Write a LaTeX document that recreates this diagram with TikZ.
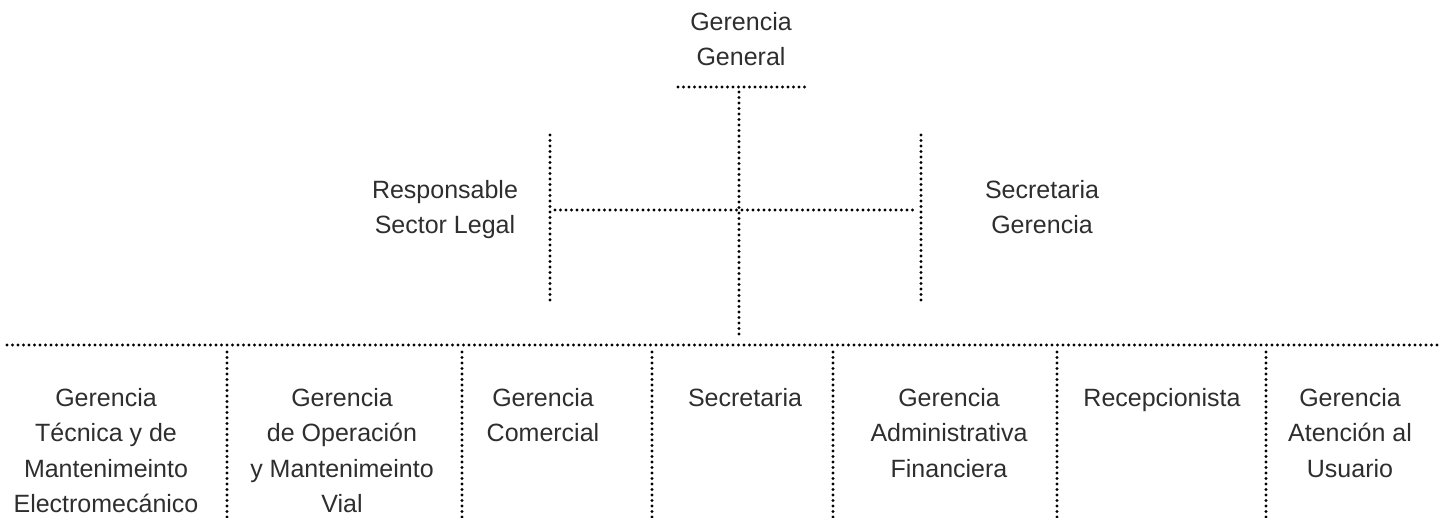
\documentclass[tikz,border=0pt]{standalone}
\usepackage{fontspec}
\setmainfont{Liberation Sans}
\definecolor{ink}{HTML}{2E2E2E}
\begin{document}
\begin{tikzpicture}[x=1pt,y=-1pt,
  dots/.style={line width=3.2pt,line cap=round,dash pattern=on 0pt off 5.5pt,color=black},
  lbl/.style={anchor=north,inner sep=0pt,align=center,text=ink,font=\fontsize{25}{35.5}\selectfont}]
\useasboundingbox (0,0) rectangle (1445,518);
% top level
\node[lbl] (gg) at (741,12) {Gerencia\\General};
\node[lbl] (legal) at (445,180) {Responsable\\Sector Legal};
\node[lbl] (secg) at (1042,180) {Secretaria\\Gerencia};
% bottom row
\foreach \x/\n/\t in {106/tec/{Gerencia\\Técnica y de\\Mantenimeinto\\Electromecánico},
  342/ope/{Gerencia\\de Operación\\y Mantenimeinto\\Vial},
  543/com/{Gerencia\\Comercial},
  745/sec/{Secretaria},
  949/adm/{Gerencia\\Administrativa\\Financiera},
  1162/rec/{Recepcionista},
  1350/usu/{Gerencia\\Atención al\\Usuario}}
  \node[lbl] (\n) at (\x,388) {\t};
% lines
\coordinate (bar-l) at (678,87);
\coordinate (bar-r) at (806,87);
\coordinate (trunk-t) at (739,92);
\coordinate (trunk-b) at (739,335);
\coordinate (br-l) at (555,210);
\coordinate (br-r) at (917,210);
\coordinate (legal-t) at (550,135);
\coordinate (legal-b) at (550,302);
\coordinate (secg-t) at (921,135);
\coordinate (secg-b) at (921,302);
\coordinate (bus-l) at (7,345);
\coordinate (bus-r) at (1440,345);
\draw[dots] (bar-l) -- (bar-r);
\draw[dots] (trunk-t) -- (trunk-b);
\draw[dots] (br-l) -- (br-r);
\draw[dots] (legal-t) -- (legal-b);
\draw[dots] (secg-t) -- (secg-b);
\draw[dots] (bus-l) -- (bus-r);
\foreach \x [count=\i] in {227,462,652,833,1057,1266} {
  \coordinate (sep\i-t) at (\x,352);
  \coordinate (sep\i-b) at (\x,517);
  \draw[dots] (sep\i-t) -- (sep\i-b);
}
\end{tikzpicture}
\end{document}
